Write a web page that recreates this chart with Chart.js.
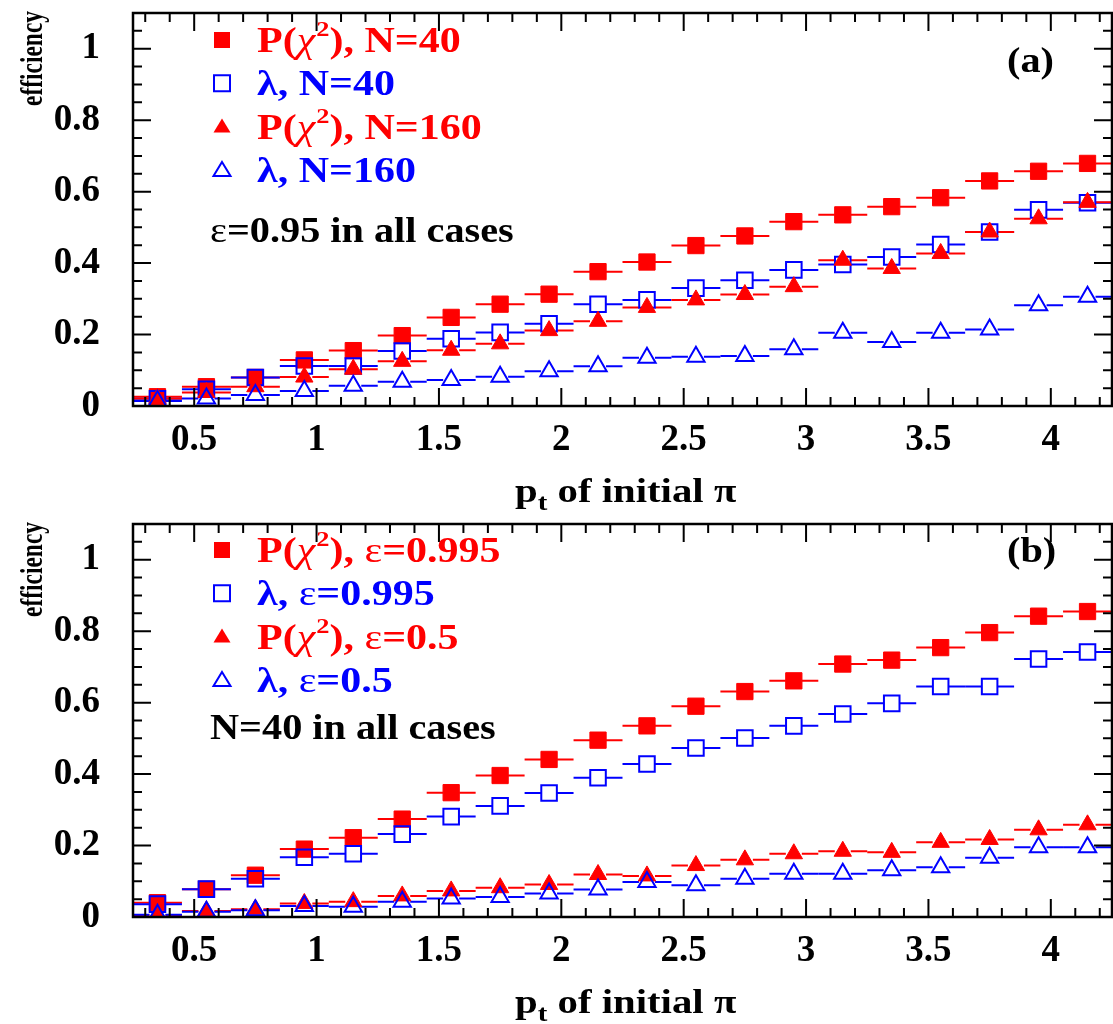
<!DOCTYPE html>
<html>
<head>
<meta charset="utf-8">
<script src="https://cdn.jsdelivr.net/npm/chart.js@4.4.0/dist/chart.umd.min.js"></script>
<style>
  html, body { margin: 0; padding: 0; background: #fff; overflow: hidden; }
  canvas { position: absolute; left: 0; }
</style>
</head>
<body>
<canvas id="chartA" width="1125" height="511" style="top:0px"></canvas>
<canvas id="chartB" width="1125" height="513" style="top:511px"></canvas>
<script>
// bin centres in pt, each bin is 0.2 wide
const xCenters = [0.35, 0.55, 0.75, 0.95, 1.15, 1.35, 1.55, 1.75, 1.95, 2.15,
                  2.35, 2.55, 2.75, 2.95, 3.15, 3.35, 3.55, 3.75, 3.95, 4.15];
const binHalf = 0.1;
const xTicks = [0.5, 1, 1.5, 2, 2.5, 3, 3.5, 4];
const yTicks = [0, 0.2, 0.4, 0.6, 0.8, 1];

// panel (a): eps = 0.95
const chi2N40  = [0.026, 0.054, 0.080, 0.129, 0.155, 0.197, 0.248, 0.285, 0.313, 0.376,
                  0.403, 0.449, 0.476, 0.516, 0.535, 0.558, 0.583, 0.630, 0.657, 0.679];
const lamN40   = [0.020, 0.047, 0.080, 0.112, 0.112, 0.154, 0.188, 0.206, 0.230, 0.285,
                  0.297, 0.330, 0.352, 0.381, 0.396, 0.417, 0.452, 0.487, 0.549, 0.569];
const chi2N160 = [0.021, 0.038, 0.054, 0.081, 0.103, 0.125, 0.156, 0.174, 0.211, 0.237,
                  0.276, 0.297, 0.312, 0.334, 0.408, 0.385, 0.427, 0.487, 0.524, 0.570];
const lamN160  = [0.014, 0.021, 0.031, 0.042, 0.057, 0.068, 0.073, 0.082, 0.097, 0.111,
                  0.135, 0.138, 0.140, 0.159, 0.205, 0.179, 0.205, 0.214, 0.282, 0.306];

// panel (b): N = 40
const chi2E995 = [0.040, 0.078, 0.117, 0.190, 0.222, 0.274, 0.348, 0.396, 0.441, 0.495,
                  0.535, 0.590, 0.631, 0.661, 0.708, 0.719, 0.754, 0.796, 0.842, 0.855];
const lamE995  = [0.036, 0.078, 0.107, 0.167, 0.177, 0.232, 0.281, 0.311, 0.347, 0.390,
                  0.428, 0.473, 0.501, 0.535, 0.568, 0.598, 0.645, 0.645, 0.722, 0.742];
const chi2E05  = [0.005, 0.017, 0.022, 0.038, 0.043, 0.059, 0.073, 0.082, 0.091, 0.119,
                  0.115, 0.144, 0.160, 0.177, 0.184, 0.181, 0.209, 0.217, 0.244, 0.258];
const lamE05   = [0.006, 0.015, 0.019, 0.031, 0.029, 0.043, 0.052, 0.056, 0.066, 0.077,
                  0.098, 0.089, 0.107, 0.121, 0.121, 0.131, 0.139, 0.166, 0.195, 0.195];

const RED = "#ff0000";
const BLUE = "#0000ff";
const SERIF = "'Liberation Serif', 'DejaVu Serif', serif";
const SX = 1.15; // text in the original is a bit wider than Times

// draws a label char by char so chi can be italic, eps regular and ² raised
function drawRich(ctx, s, x, y, size, color, sx) {
  ctx.save();
  ctx.translate(x, y);
  ctx.scale(sx || SX, 1);
  ctx.fillStyle = color;
  ctx.textAlign = "left";
  ctx.textBaseline = "alphabetic";
  let cx = 0;
  for (const ch of s) {
    if (ch === "\u00b2") {
      ctx.font = "bold " + Math.round(size * 0.62) + "px " + SERIF;
      ctx.fillText("2", cx + 1, -size * 0.45);
      cx += ctx.measureText("2").width + 1;
      continue;
    }
    if (ch === "\u03c7") ctx.font = "italic " + size + "px " + SERIF;
    else if (ch === "\u03b5") ctx.font = size + "px " + SERIF;
    else ctx.font = "bold " + size + "px " + SERIF;
    ctx.fillText(ch, cx, 0);
    cx += ctx.measureText(ch).width;
  }
  ctx.restore();
}

function drawMarker(ctx, style, filled, color, x, y) {
  ctx.save();
  ctx.beginPath();
  if (style === "rect") {
    ctx.rect(x - 8, y - 8, 16, 16);
  } else {
    ctx.moveTo(x, y - 8);
    ctx.lineTo(x + 8.5, y + 6);
    ctx.lineTo(x - 8.5, y + 6);
    ctx.closePath();
  }
  if (filled) { ctx.fillStyle = color; ctx.fill(); }
  else { ctx.strokeStyle = color; ctx.lineWidth = 2; ctx.stroke(); }
  ctx.restore();
}

const panelDecor = {
  id: "panelDecor",
  beforeDatasetsDraw(chart) {
    // horizontal bars = bin width
    const { ctx, chartArea: a, scales: { x } } = chart;
    ctx.save();
    ctx.beginPath();
    ctx.rect(a.left, a.top, a.right - a.left, a.bottom - a.top);
    ctx.clip();
    ctx.lineWidth = 2;
    chart.data.datasets.forEach((ds, i) => {
      const meta = chart.getDatasetMeta(i);
      ctx.strokeStyle = ds.borderColor;
      meta.data.forEach((pt, j) => {
        const xv = ds.data[j].x;
        const x0 = x.getPixelForValue(xv - binHalf);
        const x1 = x.getPixelForValue(xv + binHalf);
        ctx.beginPath();
        ctx.moveTo(x0, pt.y); ctx.lineTo(pt.x - 8, pt.y);
        ctx.moveTo(pt.x + 8, pt.y); ctx.lineTo(x1, pt.y);
        ctx.stroke();
      });
    });
    ctx.restore();
  },
  afterDraw(chart, args, opts) {
    const { ctx, chartArea: a, scales: { x, y } } = chart;
    ctx.save();

    // frame
    ctx.strokeStyle = "#000";
    ctx.lineWidth = 2.5;
    ctx.strokeRect(a.left, a.top, a.right - a.left, a.bottom - a.top);

    // inward ticks on all four sides
    ctx.lineWidth = 2;
    ctx.beginPath();
    for (let k = 3; k <= 42; k++) {
      const v = k / 10;
      const major = k % 5 === 0;
      const len = major ? 18 : 9;
      const px = x.getPixelForValue(v);
      ctx.moveTo(px, a.bottom); ctx.lineTo(px, a.bottom - len);
      ctx.moveTo(px, a.top); ctx.lineTo(px, a.top + len);
    }
    for (let k = 1; k <= 21; k++) {
      const v = k / 20;
      const major = k % 4 === 0;
      const len = major ? 18 : 9;
      const py = y.getPixelForValue(v);
      ctx.moveTo(a.left, py); ctx.lineTo(a.left + len, py);
      ctx.moveTo(a.right, py); ctx.lineTo(a.right - len, py);
    }
    ctx.stroke();

    // legend
    chart.data.datasets.forEach((ds, i) => {
      const ry = opts.legendTop + i * 43.3;
      drawMarker(ctx, ds.pointStyle, ds.filled, ds.borderColor, 222, ry);
      drawRich(ctx, ds.label, 257, ry + 12, 35, ds.borderColor, 1.2);
    });
    drawRich(ctx, opts.note, 210, opts.noteY, 35, "#000");
    drawRich(ctx, opts.tag, 1007, opts.tagY, 35, "#000");

    // x title: p_t of initial pi
    ctx.save();
    ctx.translate(515, 502);
    ctx.scale(1.2, 1);
    ctx.fillStyle = "#000";
    ctx.font = "bold 34px " + SERIF;
    ctx.fillText("p", 0, 0);
    const wp = ctx.measureText("p").width;
    ctx.font = "bold 24px " + SERIF;
    ctx.fillText("t", wp, 8);
    const wt = ctx.measureText("t").width;
    ctx.font = "bold 34px " + SERIF;
    ctx.fillText(" of initial \u03c0", wp + wt, 0);
    ctx.restore();

    // y title
    ctx.save();
    ctx.translate(42, 11);
    ctx.rotate(-Math.PI / 2);
    ctx.font = "bold 28px " + SERIF;
    const tw = ctx.measureText("efficiency").width;
    ctx.scale(95 / tw, 1.12);
    ctx.fillStyle = "#000";
    ctx.textAlign = "right";
    ctx.fillText("efficiency", 0, 0);
    ctx.restore();

    ctx.restore();
  }
};

function makeSet(label, values, color, style, filled, order) {
  return {
    label: label,
    data: xCenters.map((xv, i) => ({ x: xv, y: values[i] })),
    borderColor: color,
    backgroundColor: filled ? color : "rgba(0,0,0,0)",
    pointStyle: style,
    filled: filled,
    pointRadius: style === "rect" ? (filled ? 11.5 : 11) : 10,
    borderWidth: filled ? 1 : 2,
    showLine: false,
    order: order
  };
}

function noPad(s) {
  s.paddingTop = 0; s.paddingBottom = 0;
  s.paddingLeft = 0; s.paddingRight = 0;
}

function makePanel(id, sets, opts) {
  const canvas = document.getElementById(id);
  const xAxisHeight = canvas.height - 406;
  return new Chart(canvas, {
    type: "scatter",
    data: { datasets: sets },
    options: {
      responsive: false,
      animation: false,
      devicePixelRatio: 1,
      events: [],
      layout: { padding: { top: 10, right: 7, left: 0, bottom: 0 } },
      plugins: {
        legend: { display: false },
        tooltip: { enabled: false },
        panelDecor: opts
      },
      scales: {
        x: {
          type: "linear",
          min: 0.25,
          max: 4.25,
          grid: { display: false },
          border: { display: false },
          afterBuildTicks: (s) => { s.ticks = xTicks.map(v => ({ value: v })); },
          afterFit: (s) => { s.height = xAxisHeight; noPad(s); },
          ticks: {
            padding: 8,
            color: "#000",
            font: { family: SERIF, weight: "bold", size: 37, lineHeight: 1 },
            callback: (v) => String(v)
          }
        },
        y: {
          type: "linear",
          min: 0,
          max: 1.1,
          grid: { display: false },
          border: { display: false },
          afterBuildTicks: (s) => { s.ticks = yTicks.map(v => ({ value: v })); },
          afterFit: (s) => { s.width = 133; noPad(s); },
          ticks: {
            padding: 25,
            color: "#000",
            font: { family: SERIF, weight: "bold", size: 37, lineHeight: 1 },
            callback: (v) => String(v)
          }
        }
      }
    },
    plugins: [panelDecor]
  });
}

makePanel("chartA", [
  makeSet("P(\u03c7\u00b2), N=40", chi2N40, RED, "rect", true, 4),
  makeSet("\u03bb, N=40", lamN40, BLUE, "rect", false, 3),
  makeSet("P(\u03c7\u00b2), N=160", chi2N160, RED, "triangle", true, 2),
  makeSet("\u03bb, N=160", lamN160, BLUE, "triangle", false, 1)
], { legendTop: 40, note: "\u03b5=0.95 in all cases", noteY: 242, tag: "(a)", tagY: 72 });

makePanel("chartB", [
  makeSet("P(\u03c7\u00b2), \u03b5=0.995", chi2E995, RED, "rect", true, 4),
  makeSet("\u03bb, \u03b5=0.995", lamE995, BLUE, "rect", false, 3),
  makeSet("P(\u03c7\u00b2), \u03b5=0.5", chi2E05, RED, "triangle", true, 2),
  makeSet("\u03bb, \u03b5=0.5", lamE05, BLUE, "triangle", false, 1)
], { legendTop: 39, note: "N=40 in all cases", noteY: 228, tag: "(b)", tagY: 51 });
</script>
</body>
</html>
